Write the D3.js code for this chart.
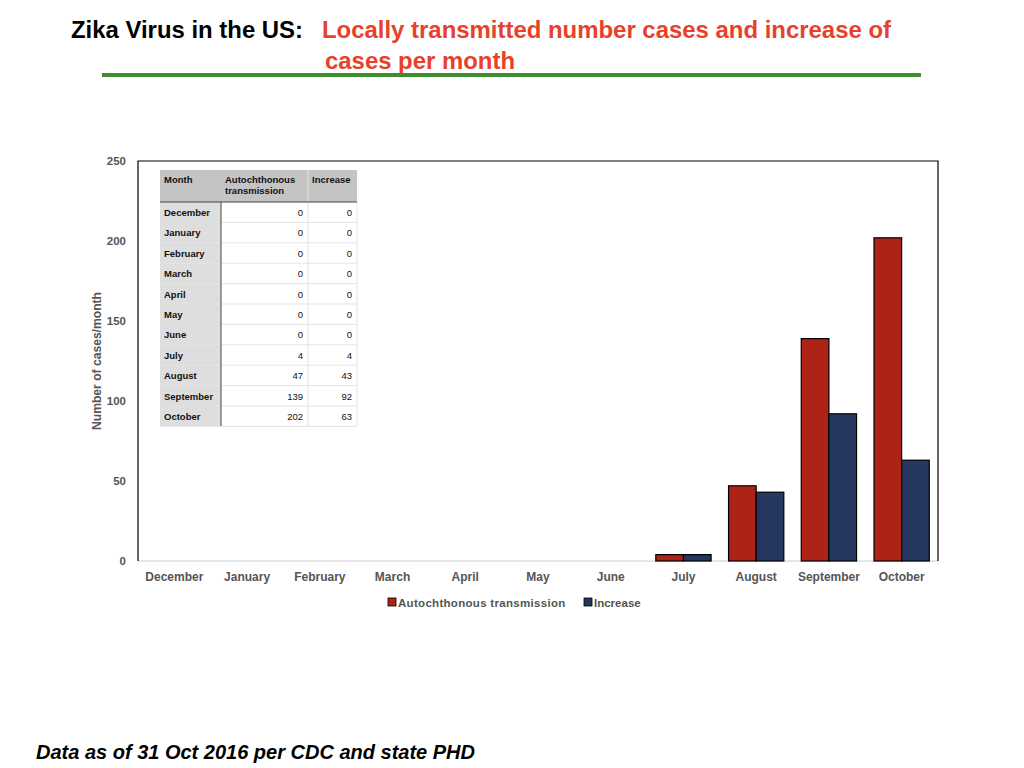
<!DOCTYPE html>
<html>
<head>
<meta charset="utf-8">
<script src="https://cdn.jsdelivr.net/npm/d3@7"></script>
<style>
  body { margin: 0; background: #fff; }
  svg text { font-family: "Liberation Sans", Arial, Helvetica, sans-serif; }
</style>
</head>
<body>
<svg id="chart"></svg>
<script>
var months = ["December", "January", "February", "March", "April", "May", "June", "July", "August", "September", "October"];
var autochthonous = [0, 0, 0, 0, 0, 0, 0, 4, 47, 139, 202];
var increase = [0, 0, 0, 0, 0, 0, 0, 4, 43, 92, 63];
var seriesNames = ["Autochthonous transmission", "Increase"];
var yTicks = [0, 50, 100, 150, 200, 250];

var colors = ["#ad2318", "#25365f"];

var width = 1024, height = 768;
var margin = { top: 161, right: 86, bottom: 207, left: 138 };
var innerW = width - margin.left - margin.right,
    innerH = height - margin.top - margin.bottom;

var svg = d3.select("svg#chart")
    .attr("width", width)
    .attr("height", height);

// titles (condensed look -> stretch to the measured widths)
svg.append("text")
    .attr("x", 71).attr("y", 38)
    .attr("font-size", 24).attr("font-weight", "bold")
    .attr("fill", "#000")
    .attr("textLength", 232).attr("lengthAdjust", "spacingAndGlyphs")
    .text("Zika Virus in the US:");
svg.append("text")
    .attr("x", 322).attr("y", 38)
    .attr("font-size", 24).attr("font-weight", "bold")
    .attr("fill", "#e8412b")
    .attr("textLength", 569).attr("lengthAdjust", "spacingAndGlyphs")
    .text("Locally transmitted number cases and increase of");
svg.append("text")
    .attr("x", 325).attr("y", 69)
    .attr("font-size", 24).attr("font-weight", "bold")
    .attr("fill", "#e8412b")
    .attr("textLength", 190).attr("lengthAdjust", "spacingAndGlyphs")
    .text("cases per month");
svg.append("line")
    .attr("x1", 102).attr("x2", 921).attr("y1", 75).attr("y2", 75)
    .attr("stroke", "#3c8f2c").attr("stroke-width", 4);

svg.append("text")
    .attr("x", 36).attr("y", 759)
    .attr("font-size", 20).attr("font-weight", "bold").attr("font-style", "italic")
    .attr("fill", "#000")
    .attr("textLength", 439).attr("lengthAdjust", "spacingAndGlyphs")
    .text("Data as of 31 Oct 2016 per CDC and state PHD");

var g = svg.append("g").attr("transform", "translate(" + margin.left + "," + margin.top + ")");

var x = d3.scaleBand().domain(months).range([0, innerW]).paddingInner(0.24).paddingOuter(0.12);
var x1 = d3.scaleBand().domain(seriesNames).range([0, x.bandwidth()]);
var y = d3.scaleLinear().domain([0, 250]).range([innerH, 0]);

var data = months.map(function(m, i) {
    return { month: m, values: [autochthonous[i], increase[i]] };
});

// y axis labels
var yAxis = g.append("g").call(d3.axisLeft(y).tickValues(yTicks).tickSize(0).tickPadding(12));
yAxis.select(".domain").remove();
yAxis.selectAll("text")
    .attr("font-size", 11.5).attr("font-weight", "bold").attr("fill", "#555")
    .style("font-family", "'Liberation Sans', Arial, sans-serif");

// x axis
var xAxis = g.append("g").attr("transform", "translate(0," + innerH + ")")
    .call(d3.axisBottom(x).tickSize(0).tickPadding(11));
xAxis.select(".domain").attr("stroke", "#ccc").attr("d", "M0,0H" + innerW);
xAxis.selectAll("text")
    .attr("font-size", 12).attr("font-weight", "bold").attr("fill", "#555")
    .style("font-family", "'Liberation Sans', Arial, sans-serif");

// frame left, top, right
g.append("path")
    .attr("d", "M0," + innerH + "V0H" + innerW + "V" + innerH)
    .attr("fill", "none").attr("stroke", "#000").attr("stroke-width", 1.2);

// bars
g.selectAll("g.month").data(data).enter().append("g")
    .attr("class", "month")
    .attr("transform", function(d) { return "translate(" + x(d.month) + ",0)"; })
    .selectAll("rect")
    .data(function(d) { return d.values.map(function(v, i) { return { key: seriesNames[i], value: v, i: i }; }); })
    .enter().filter(function(d) { return d.value > 0; }).append("rect")
    .attr("x", function(d) { return x1(d.key); })
    .attr("width", x1.bandwidth())
    .attr("y", function(d) { return y(d.value); })
    .attr("height", function(d) { return innerH - y(d.value); })
    .attr("fill", function(d) { return colors[d.i]; })
    .attr("stroke", "#000").attr("stroke-width", 1.2);

// y axis title
svg.append("text")
    .attr("transform", "translate(101,361) rotate(-90)")
    .attr("text-anchor", "middle")
    .attr("font-size", 12).attr("font-weight", "bold").attr("fill", "#555")
    .attr("textLength", 138).attr("lengthAdjust", "spacingAndGlyphs")
    .text("Number of cases/month");

// legend
var legend = svg.append("g").attr("transform", "translate(388,597)");
var legendX = [0, 196];
seriesNames.forEach(function(name, i) {
    var lg = legend.append("g").attr("transform", "translate(" + legendX[i] + ",0)");
    lg.append("rect").attr("width", 8).attr("height", 8).attr("y", 1)
        .attr("fill", colors[i]).attr("stroke", "#000").attr("stroke-width", 0.8);
    lg.append("text").attr("x", 10).attr("y", 9.5)
        .attr("font-size", 11.5).attr("font-weight", "bold").attr("fill", "#555")
        .attr("letter-spacing", i === 0 ? 0.3 : 0)
        .text(name);
});

// data table
var table = svg.append("g").attr("transform", "translate(160,170)");
var colX = [0, 61, 148, 197];
var headH = 32, rowH = 20.4;
var tableH = headH + rowH * months.length;

table.append("rect").attr("width", colX[3]).attr("height", headH).attr("fill", "#c4c4c4");
table.append("rect").attr("y", headH).attr("width", colX[1]).attr("height", rowH * months.length).attr("fill", "#dedede");

months.forEach(function(m, i) {
    var ry = headH + rowH * (i + 1);
    if (i < months.length - 1) {
        table.append("line").attr("x1", 0).attr("x2", colX[3]).attr("y1", ry).attr("y2", ry)
            .attr("stroke", "#e4e4e4").attr("stroke-width", 1);
    }
    var ty = headH + rowH * i + 14;
    table.append("text").attr("x", 4).attr("y", ty)
        .attr("font-size", 9.5).attr("font-weight", "bold").attr("fill", "#111").text(m);
    table.append("text").attr("x", colX[2] - 5).attr("y", ty).attr("text-anchor", "end")
        .attr("font-size", 9.5).attr("fill", "#111").text(autochthonous[i]);
    table.append("text").attr("x", colX[3] - 5).attr("y", ty).attr("text-anchor", "end")
        .attr("font-size", 9.5).attr("fill", "#111").text(increase[i]);
});
table.append("line").attr("x1", colX[2]).attr("x2", colX[2]).attr("y1", 0).attr("y2", tableH)
    .attr("stroke", "#e4e4e4");
table.append("line").attr("x1", colX[3]).attr("x2", colX[3]).attr("y1", headH).attr("y2", tableH)
    .attr("stroke", "#e4e4e4");
table.append("line").attr("x1", colX[1]).attr("x2", colX[1]).attr("y1", headH).attr("y2", tableH)
    .attr("stroke", "#444");
table.append("line").attr("x1", 0).attr("x2", colX[3]).attr("y1", headH).attr("y2", headH)
    .attr("stroke", "#444");
table.append("line").attr("x1", 0).attr("x2", colX[3]).attr("y1", tableH).attr("y2", tableH)
    .attr("stroke", "#e4e4e4");

var headers = [["Month"], ["Autochthonous", "transmission"], ["Increase"]];
headers.forEach(function(h, i) {
    h.forEach(function(line, j) {
        table.append("text").attr("x", colX[i] + 4).attr("y", 13 + j * 11)
            .attr("font-size", 9.5).attr("font-weight", "bold").attr("fill", "#111").text(line);
    });
});
</script>
</body>
</html>
